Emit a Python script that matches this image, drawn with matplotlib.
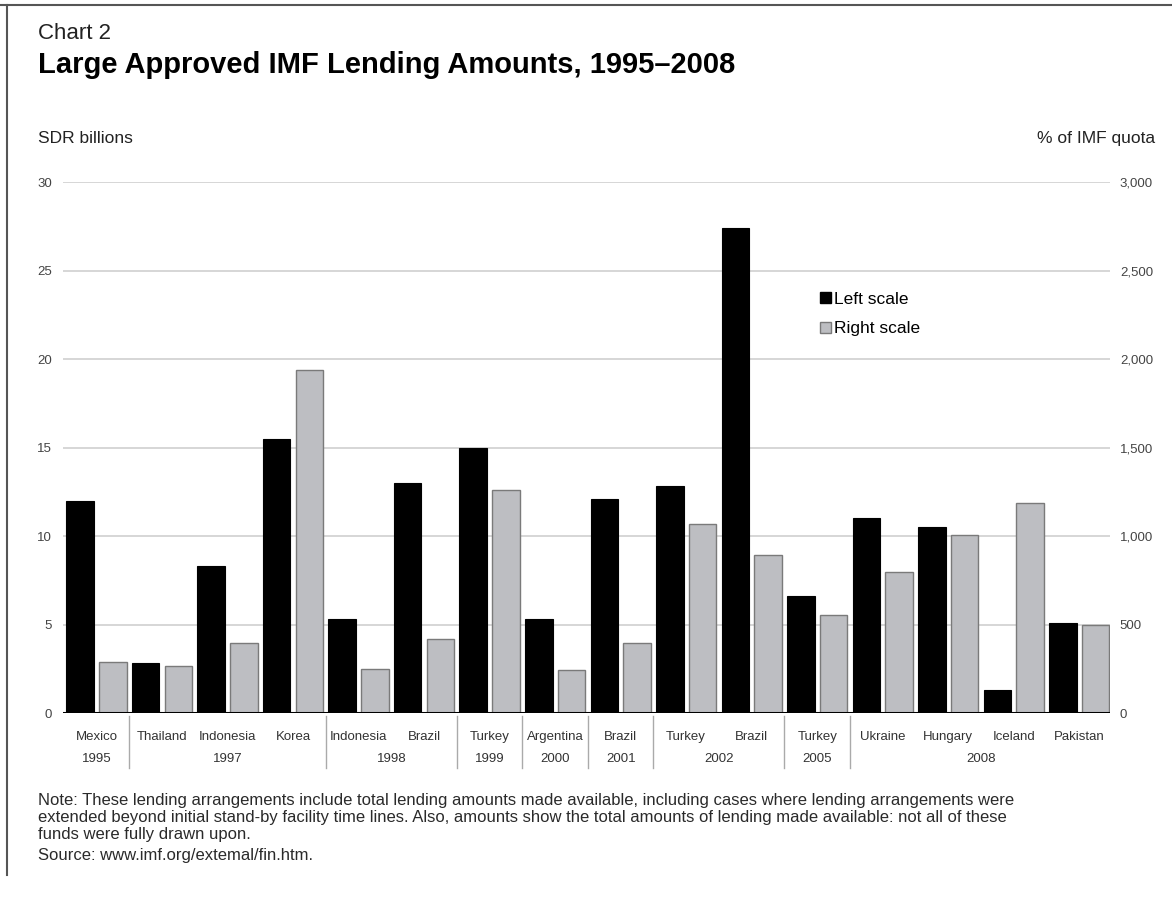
import numpy as np
import matplotlib
matplotlib.use('Agg')
import matplotlib.pyplot as plt
import matplotlib.transforms as mtransforms
from matplotlib.patches import Patch
from matplotlib.lines import Line2D
from matplotlib.ticker import FuncFormatter

plt.rcParams['font.family'] = ['Liberation Sans', 'DejaVu Sans']

# data
countries = ['Mexico', 'Thailand', 'Indonesia', 'Korea', 'Indonesia', 'Brazil',
             'Turkey', 'Argentina', 'Brazil', 'Turkey', 'Brazil', 'Turkey',
             'Ukraine', 'Hungary', 'Iceland', 'Pakistan']
years = ['1995', '1997', '1997', '1997', '1998', '1998', '1999', '2000',
         '2001', '2002', '2002', '2005', '2008', '2008', '2008', '2008']
sdr_billions = [12.0, 2.8, 8.3, 15.5, 5.3, 13.0, 15.0, 5.3, 12.1, 12.8,
                27.4, 6.6, 11.0, 10.5, 1.3, 5.1]
pct_quota = [290, 265, 395, 1940, 250, 420, 1260, 245, 395, 1070,
             895, 555, 795, 1005, 1185, 495]

note_lines = [
    'Note: These lending arrangements include total lending amounts made available, '
    'including cases where lending arrangements were',
    'extended beyond initial stand-by facility time lines. Also, amounts show the total '
    'amounts of lending made available: not all of these',
    'funds were fully drawn upon.',
]
source = 'Source: www.imf.org/extemal/fin.htm.'

BLACK = '#000000'
GRAY = '#bdbec2'
TXT = '#222222'

fig = plt.figure(figsize=(11.72, 8.97), dpi=100)
ax = fig.add_axes([0.0538, 0.2051, 0.8934, 0.5920])
ax2 = ax.twinx()

x = np.arange(len(countries))
w = 0.42
ax.bar(x - 0.25, sdr_billions, w, color=BLACK, edgecolor=BLACK, lw=0.8, zorder=3)
ax2.bar(x + 0.25, pct_quota, w, color=GRAY, edgecolor='#7a7a7a', lw=1.0, zorder=3)

ax.set_xlim(-0.51, 15.47)
ax.set_ylim(0, 30)
ax2.set_ylim(0, 3000)
ax.set_yticks(np.arange(0, 31, 5))
ax2.set_yticks(np.arange(0, 3001, 500))
ax2.yaxis.set_major_formatter(FuncFormatter(lambda v, p: f'{int(v):,}'))

for a in (ax, ax2):
    for s in a.spines.values():
        s.set_visible(False)
    a.tick_params(axis='y', length=0, labelsize=9.5, labelcolor='#444444')
ax.tick_params(axis='y', pad=8)
ax2.tick_params(axis='y', pad=7)

# gridlines
for v in np.arange(5, 31, 5):
    ax.axhline(v, color='#cfcfcf', lw=1.2, zorder=1)
ax2.axhline(0, color='black', lw=2.2, zorder=4)

ax.set_xticks(x)
ax.set_xticklabels(countries, fontsize=9.5, color='#333333')
ax.tick_params(axis='x', length=0, pad=13)

# year labels and separators
trans = mtransforms.blended_transform_factory(ax.transData, ax.transAxes)
start = 0
for i in range(1, len(years) + 1):
    if i == len(years) or years[i] != years[start]:
        ax.text((start + i - 1) / 2, -0.087, years[start], transform=trans,
                ha='center', va='center', fontsize=9.5, color='#333333')
        if i < len(years):
            ax.plot([i - 0.5, i - 0.5], [-0.006, -0.104], transform=trans,
                    color='#aaaaaa', lw=1, clip_on=False)
        start = i

# legend
handles = [Patch(facecolor=BLACK, edgecolor=BLACK, label='Left scale'),
           Patch(facecolor=GRAY, edgecolor='#7a7a7a', label='Right scale')]
fig.legend(handles=handles, loc='upper left', bbox_to_anchor=(0.700, 0.675),
           frameon=False, fontsize=12.5, handlelength=0.6, handleheight=0.6,
           handletextpad=0.2, labelspacing=0.85, borderaxespad=0, borderpad=0)

# titles and notes
fig.text(0.0325, 0.963, 'Chart 2', fontsize=16, color=TXT, va='center')
fig.text(0.0325, 0.9275, 'Large Approved IMF Lending Amounts, 1995\u20132008',
         fontsize=21, fontweight='bold', color='black', va='center')
fig.text(0.0325, 0.846, 'SDR billions', fontsize=12.5, color=TXT, va='center')
fig.text(0.986, 0.846, '% of IMF quota', fontsize=12.5, color=TXT,
         va='center', ha='right')

for k, line in enumerate(note_lines):
    fig.text(0.0325, 1 - (800 + 17 * k) / 897, line, fontsize=12, color='#2a2a2a',
             va='center')
fig.text(0.0325, 1 - 855 / 897, source, fontsize=12, color='#2a2a2a', va='center')

# frame on top and left
fig.add_artist(Line2D([0.0, 1.0], [0.994, 0.994], color='#555555', lw=1.5))
fig.add_artist(Line2D([0.006, 0.006], [0.994, 0.025], color='#555555', lw=1.5))

fig.savefig('out.png', dpi=100)
